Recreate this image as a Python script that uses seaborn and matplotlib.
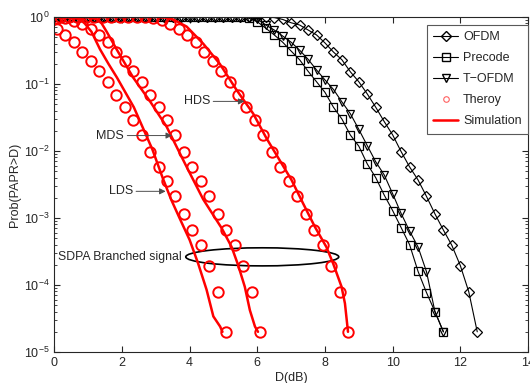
import numpy as np
import matplotlib
matplotlib.use('Agg')
import matplotlib.pyplot as plt
import seaborn as sns
from matplotlib.lines import Line2D
from matplotlib.patches import Ellipse

# Black reference curves (sampled every 0.25 dB)
x_ofdm = np.arange(0, 12.51, 0.25)
ofdm = [1.0] * 23 + [0.999, 0.999, 0.995, 0.98, 0.92, 0.82, 0.76, 0.64, 0.54,
                     0.41, 0.30, 0.23, 0.152, 0.108, 0.071, 0.045, 0.0275,
                     0.0174, 0.0098, 0.0058, 0.0037, 0.0021, 0.00115, 0.00066,
                     0.00039, 0.000195, 7.9e-5, 2e-5]
x_pre = np.arange(0, 11.51, 0.25)
precode = [1.0] * 22 + [0.99, 0.96, 0.85, 0.68, 0.54, 0.42, 0.31, 0.23, 0.155,
                        0.108, 0.075, 0.045, 0.030, 0.0173, 0.0118, 0.0064,
                        0.0040, 0.0022, 0.00129, 0.00072, 0.0004, 0.00016,
                        7.7e-5, 4e-5, 2e-5]
tofdm = [1.0] * 23 + [0.98, 0.93, 0.76, 0.64, 0.52, 0.42, 0.32, 0.234, 0.162,
                      0.115, 0.083, 0.054, 0.036, 0.021, 0.012, 0.0069, 0.0044,
                      0.0023, 0.00117, 0.00064, 0.00037, 0.000158, 4e-5, 2e-5]

# Theory (circles)
x_lds_th = np.arange(0.08, 5.1, 0.25)
lds_th = [0.66, 0.54, 0.42, 0.30, 0.22, 0.156, 0.108, 0.068, 0.045, 0.029,
          0.0174, 0.0098, 0.0058, 0.0036, 0.0021, 0.00115, 0.00066, 0.0004,
          0.00019, 7.8e-5, 2e-5]
x_mds_th = np.arange(0.08, 6.1, 0.25)
mds_th = [0.98, 0.95, 0.88, 0.78, 0.66, 0.54, 0.42, 0.30, 0.22, 0.156, 0.108,
          0.068, 0.045, 0.029, 0.0174, 0.0098, 0.0058, 0.0036, 0.0021, 0.00115,
          0.00066, 0.0004, 0.00019, 7.8e-5, 2e-5]
x_hds_th = np.arange(0.18, 8.7, 0.25)
hds_th = [1.0] * 10 + [0.99, 0.97, 0.9, 0.79, 0.66, 0.54, 0.42, 0.30, 0.22,
                       0.156, 0.108, 0.068, 0.045, 0.029, 0.0174, 0.0098,
                       0.0058, 0.0036, 0.0021, 0.00115, 0.00066, 0.0004,
                       0.00019, 7.8e-5, 2e-5]

# Simulation (red lines)
x_lds_sim = [0, 0.5, 0.75, 0.9, 1.1, 1.35, 1.6, 1.85, 2.35, 2.9, 3.2, 3.45,
             3.7, 4.0, 4.25, 4.5, 4.7, 4.9, 4.97]
lds_sim = [1.0, 0.99, 0.93, 0.8, 0.6, 0.33, 0.2, 0.125, 0.045, 0.0105, 0.0040,
           0.0019, 0.001, 0.00047, 0.00021, 8.5e-5, 3.4e-5, 2.4e-5, 2e-5]
x_mds_sim = [0, 1.0, 1.25, 1.4, 1.55, 1.84, 2.33, 2.83, 3.32, 3.91, 4.4, 4.95,
             5.24, 5.43, 5.63, 5.78, 5.93, 6.02]
mds_sim = [1.0, 0.99, 0.93, 0.8, 0.6, 0.33, 0.125, 0.055, 0.023, 0.0058,
           0.0019, 0.0007, 0.00037, 0.0002, 9.4e-5, 4.2e-5, 2.4e-5, 2e-5]
x_hds_sim = [0, 3.0, 3.42, 3.91, 4.4, 4.89, 5.39, 5.88, 6.27, 7.01, 7.35, 7.70,
             8.04, 8.24, 8.49, 8.59, 8.68]
hds_sim = [1.0, 1.0, 0.97, 0.72, 0.40, 0.20, 0.081, 0.036, 0.0155, 0.0037,
           0.00166, 0.00074, 0.00037, 0.00021, 9.4e-5, 5.3e-5, 2e-5]

sns.set_style('ticks')
plt.rcParams['font.family'] = ['Liberation Sans', 'DejaVu Sans']
plt.rcParams['mathtext.default'] = 'regular'
plt.rcParams['font.size'] = 9

fig = plt.figure(figsize=(5.3, 3.83), dpi=100)
ax = fig.add_axes([0.1025, 0.081, 0.8937, 0.8746])

black = dict(color='k', lw=0.8, mfc='none', mec='k', mew=0.9, legend=False, ax=ax)
sns.lineplot(x=x_ofdm, y=ofdm, marker='D', markersize=5, **black)
sns.lineplot(x=x_pre, y=precode, marker='s', markersize=5.5, **black)
sns.lineplot(x=x_pre, y=tofdm, marker='v', markersize=6, **black)

circ = dict(color='red', linestyle='none', marker='o', markersize=7.5,
            mfc='none', mec='red', mew=1.4, legend=False, ax=ax)
for xs, ys in [(x_lds_th, lds_th), (x_mds_th, mds_th), (x_hds_th, hds_th)]:
  sns.lineplot(x=xs, y=ys, **circ)

for xs, ys in [(x_lds_sim, lds_sim), (x_mds_sim, mds_sim), (x_hds_sim, hds_sim)]:
  sns.lineplot(x=xs, y=ys, color='red', lw=1.8, legend=False, ax=ax)

ax.set_yscale('log')
ax.set_xlim(0, 14)
ax.set_ylim(1e-5, 1)
ax.set_xticks(range(0, 15, 2))
ax.tick_params(which='both', direction='in', top=True, right=True, labelsize=9)
ax.tick_params(which='major', length=4)
ax.tick_params(which='minor', length=2)
ax.set_xlabel('D(dB)', fontsize=9, labelpad=2)
ax.set_ylabel('Prob(PAPR>D)', fontsize=9, labelpad=2)
for s in ax.spines.values():
  s.set_linewidth(0.8)

arrow = dict(arrowstyle='-|>', color='0.3', lw=0.7, shrinkA=0, shrinkB=0,
             mutation_scale=9)
ax.annotate('HDS', xy=(5.62, 0.055), xytext=(4.6, 0.055), ha='right',
            va='center', fontsize=9, arrowprops=arrow)
ax.annotate('MDS', xy=(3.48, 0.017), xytext=(2.06, 0.017), ha='right',
            va='center', fontsize=9, arrowprops=arrow)
ax.annotate('LDS', xy=(3.29, 0.0025), xytext=(2.32, 0.0025), ha='right',
            va='center', fontsize=9, arrowprops=arrow)
ax.text(0.1, 2.6e-4, 'SDPA Branched signal', ha='left', va='center', fontsize=8.8)
ax.add_patch(Ellipse((0.439, 0.284), 0.323, 0.054, transform=ax.transAxes,
                     fill=False, ec='k', lw=1.2))

handles = [
    Line2D([], [], color='k', lw=0.8, marker='D', markersize=5, mfc='none', mec='k'),
    Line2D([], [], color='k', lw=0.8, marker='s', markersize=5.5, mfc='none', mec='k'),
    Line2D([], [], color='k', lw=0.8, marker='v', markersize=6, mfc='none', mec='k'),
    Line2D([], [], color='none', marker='o', markersize=4, mfc='none', mec='#ff6060', mew=0.8),
    Line2D([], [], color='red', lw=1.8),
]
labels = ['OFDM', 'Precode', 'T\u2212OFDM', 'Theroy', 'Simulation']
leg = ax.legend(handles, labels, loc='upper right', bbox_to_anchor=(1.0, 0.976),
                borderaxespad=0, fontsize=9, handlelength=2.0, handletextpad=0.4,
                labelspacing=0.72, borderpad=0.5, fancybox=False, framealpha=1)
leg.get_frame().set_edgecolor('0.35')
leg.get_frame().set_linewidth(0.8)

fig.savefig('out.png', dpi=100)
